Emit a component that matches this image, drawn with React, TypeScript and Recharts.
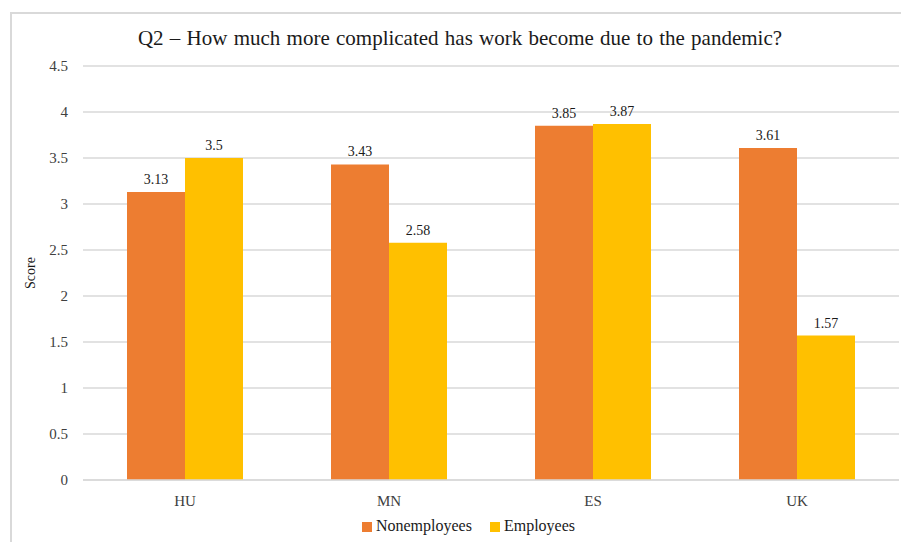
import { BarChart, Bar, XAxis, YAxis, CartesianGrid, Legend, LabelList } from "recharts";

const countries = ["HU", "MN", "ES", "UK"];
const nonemployees = [3.13, 3.43, 3.85, 3.61];
const employees = [3.5, 2.58, 3.87, 1.57];
const scoreTicks = [0, 0.5, 1, 1.5, 2, 2.5, 3, 3.5, 4, 4.5];
const seriesOrder = ["Nonemployees", "Employees"];

const rows = countries.map((country, i) => ({
  country,
  nonemployees: nonemployees[i],
  employees: employees[i],
}));

const FONT = "'Liberation Serif', 'Times New Roman', serif";
const GRID = "#d9d9d9";
const TEXT = "#404040";

export default function App() {
  return (
    <div
      style={{
        position: "absolute",
        left: 0,
        top: 0,
        width: 901,
        height: 542,
        background: "#fff",
        overflow: "hidden",
        fontFamily: FONT,
      }}
    >
      {/* chart frame, only its top and left edges fall inside the page */}
      <div
        style={{
          position: "absolute",
          left: 10,
          top: 12,
          width: 960,
          height: 600,
          borderLeft: `2px solid ${GRID}`,
          borderTop: `2px solid ${GRID}`,
        }}
      />
      <div
        style={{
          position: "absolute",
          left: 0,
          top: 26,
          width: 920,
          textAlign: "center",
          fontSize: 21,
          color: "#1a1a1a",
          wordSpacing: 1,
        }}
      >
        Q2 – How much more complicated has work become due to the pandemic?
      </div>
      <BarChart
        width={901}
        height={542}
        data={rows}
        margin={{ top: 66, right: 2, left: 0, bottom: 14 }}
        barCategoryGap={44}
        barGap={0}
        style={{ position: "absolute", left: 0, top: 0, fontFamily: FONT }}
      >
        <CartesianGrid vertical={false} stroke={GRID} strokeWidth={1.5} />
        <XAxis
          dataKey="country"
          axisLine={{ stroke: GRID, strokeWidth: 1.5 }}
          tickLine={false}
          tick={{ fill: TEXT, fontSize: 15 }}
          tickMargin={9}
          height={30}
        />
        <YAxis
          domain={[0, 4.5]}
          ticks={scoreTicks}
          axisLine={false}
          tickLine={false}
          tick={{ fill: TEXT, fontSize: 15 }}
          tickMargin={9}
          width={83}
          label={{
            value: "Score",
            angle: -90,
            position: "insideLeft",
            offset: 30,
            style: { fill: "#1a1a1a", fontSize: 14, textAnchor: "middle" },
          }}
        />
        <Legend
          verticalAlign="bottom"
          align="center"
          iconType="square"
          iconSize={10}
          itemSorter={(item: any) => seriesOrder.indexOf(item.value)}
          formatter={(value) => (
            <span style={{ color: "#1a1a1a", fontSize: 16, fontFamily: FONT, marginRight: 8 }}>
              {value}
            </span>
          )}
          wrapperStyle={{ paddingLeft: 28, top: 517 }}
        />
        <Bar
          dataKey="nonemployees"
          name="Nonemployees"
          fill="#ED7D31"
          isAnimationActive={false}
        >
          <LabelList
            dataKey="nonemployees"
            position="top"
            offset={8}
            style={{ fill: "#1a1a1a", fontSize: 14, fontFamily: FONT }}
          />
        </Bar>
        <Bar
          dataKey="employees"
          name="Employees"
          fill="#FFC000"
          isAnimationActive={false}
        >
          <LabelList
            dataKey="employees"
            position="top"
            offset={8}
            style={{ fill: "#1a1a1a", fontSize: 14, fontFamily: FONT }}
          />
        </Bar>
      </BarChart>
    </div>
  );
}
